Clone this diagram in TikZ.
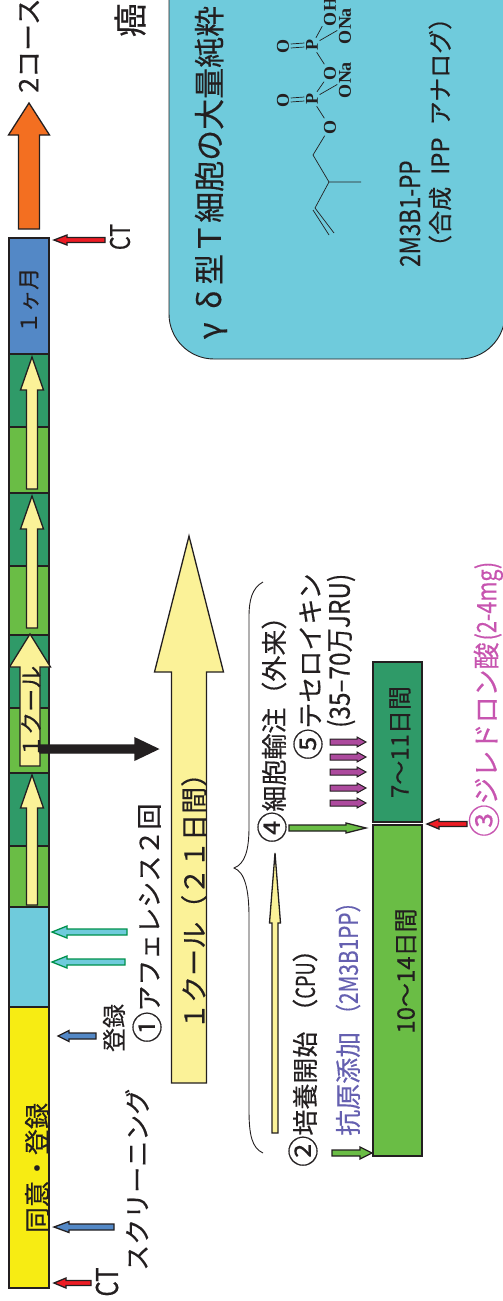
\documentclass[tikz,border=0pt]{standalone}
\usepackage{fontspec}
\usepackage{xcolor}
\usetikzlibrary{positioning,calc}
\newfontfamily\cjk[FakeBold=0.35]{Noto Sans CJK JP}
\newfontfamily\cjknarrow[FakeStretch=0.8,FakeBold=0.35]{Noto Sans CJK JP}
\newfontfamily\cjkmid[FakeStretch=0.87,FakeBold=0.35]{Noto Sans CJK JP}
\newfontfamily\cjkthin[FakeStretch=0.7,FakeBold=0.35]{Noto Sans CJK JP}
\newfontfamily\chemfont{Liberation Serif}
\newcommand{\circnum}[1]{\scalebox{1.2}{#1}}
\definecolor{Ink}{HTML}{231F20}
\definecolor{Sun}{HTML}{F7EC13}
\definecolor{Sky}{HTML}{6FCBDC}
\definecolor{Month}{HTML}{5388C6}
\definecolor{DarkGreen}{HTML}{2F9A68}
\definecolor{LightGreen}{HTML}{6ABD45}
\definecolor{Cream}{HTML}{FBF298}
\definecolor{Orange}{HTML}{F36F21}
\definecolor{Red}{HTML}{ED1C24}
\definecolor{Teal}{HTML}{00914C}
\definecolor{Violet}{HTML}{AD4A9E}
\definecolor{Indigo}{HTML}{6560B0}
\definecolor{Pink}{HTML}{C755B0}
\tikzset{
  seg/.style={%
      rectangle, draw=Ink, line width=1.3pt, inner sep=0pt, outer sep=0pt, anchor=north west,
      minimum width=#1
  },
  seg/.default=40pt,
  txt/.style={%
      font=\cjk\fontsize{#1}{#1}\selectfont, text=Ink, rotate=90, inner sep=0pt, anchor=west
  },
  txt/.default=26,
  nrw/.style={%
      font=\cjknarrow\fontsize{#1}{#1}\selectfont, text=Ink, rotate=90, inner sep=0pt, anchor=west
  },
  chem/.style={%
      font=\chemfont\bfseries\fontsize{#1}{#1}\selectfont, text=Ink, rotate=90, inner sep=1.5pt
  },
  chem/.default=18,
  bond/.style={draw=Ink, line width=0.7pt},
  blk/.style={draw=Ink, line width=1.3pt, line join=miter}
}
% tip, angle, length, head length, head half width, shaft half width
\newcommand{\blockarrow}[7][]{%
  \draw[blk,#1,shift={(#2)},rotate=#3] (0,0) -- (-#5,#6) -- (-#5,#7) -- (-#4,#7)
      -- (-#4,-#7) -- (-#5,-#7) -- (-#5,-#6) -- cycle;}
\begin{document}
\begin{tikzpicture}[x=1pt,y=-1pt]
    \useasboundingbox (0,0) rectangle (503,1301);

    % course bar
    \node[seg, fill=Month, minimum height=117pt]      (month)  at (9,238)  {};
    \node[seg, fill=DarkGreen, minimum height=73pt]   (dark1)  at (9,354)  {};
    \node[seg, fill=LightGreen, minimum height=66pt]  (light1) at (9,427)  {};
    \node[seg, fill=DarkGreen, minimum height=73pt]   (dark2)  at (9,493)  {};
    \node[seg, fill=LightGreen, minimum height=69pt]  (light2) at (9,566)  {};
    \node[seg, fill=DarkGreen, minimum height=73pt]   (dark3)  at (9,635)  {};
    \node[seg, fill=LightGreen, minimum height=65pt]  (light3) at (9,708)  {};
    \node[seg, fill=DarkGreen, minimum height=73pt]   (dark4)  at (9,773)  {};
    \node[seg, fill=LightGreen, minimum height=61pt]  (light4) at (9,846)  {};
    \node[seg, fill=Sky, minimum height=100pt]        (apher)  at (9,907)  {};
    \node[seg, fill=Sun, minimum height=281pt]        (entry)  at (9,1007) {};

    \blockarrow[fill=Cream]{32,357}{90}{132}{33}{11.5}{5.5}
    \blockarrow[fill=Cream]{32,496}{90}{132}{33}{11.5}{5.5}
    \blockarrow[fill=Cream]{32,775}{90}{130}{33}{11.5}{5.5}
    \blockarrow[fill=Cream]{30,634}{90}{132}{33}{20.5}{10}
    \blockarrow[fill=Ink]{158,749}{0}{118}{23}{11}{4}
    \blockarrow[fill=Cream]{189,536}{90}{547}{136}{34.5}{17.5}
    \blockarrow[fill=Orange]{29,103}{90}{126}{32}{20.5}{10.5}

    \node[txt=22] (monthtxt) at (29,334) {１ヶ月};
    \node[txt=23] (cycletxt) at (31,758) {１クール};
    \node[txt=26, anchor=center] (entrytxt) at (37,1168) {同意・登録};
    \node[txt=27] (cyclebig) at (194,1030) {１クール（２１日間）};
    \node[txt=27] (nextcourse) at (29,93) {2コース};
    \node[txt=34, anchor=center] (gan) at (130,20) {癌};

    % left side arrows
    \blockarrow[fill=Red]{54,240}{180}{51}{13}{5}{2.5}
    \blockarrow[fill=Sky, draw=Teal]{52,932}{180}{75}{15}{6}{3}
    \blockarrow[fill=Sky, draw=Teal]{52,962}{180}{73}{15}{6}{3}
    \blockarrow[fill=Month]{58,1036}{180}{38}{11}{5.5}{3}
    \blockarrow[fill=Month]{54,1227}{180}{60}{15}{5.5}{3}
    \blockarrow[fill=Red]{54,1283}{180}{37}{12}{5}{2.5}

    \node[nrw=27, anchor=center] (cttop) at (120,237) {CT};
    \node[nrw=30, anchor=center] (ctbot) at (107,1282) {CT};
    \node[txt=24, anchor=center] (toroku) at (114,1028) {登録};
    \node[txt=26] (apheresis) at (147,1043) {\circnum{①}アフェレシス２回};
    \node[txt=26] (screening) at (137,1271) {スクリーニング};

    % purification panel
    \draw[fill=Sky, draw=Ink, line width=0.9pt, rounded corners=45pt] (169,-80) rectangle (505,359);
    \node[txt=31] (panelhead) at (211,347) {\makebox[32pt]{γ}\makebox[30pt]{δ}型Ｔ細胞の大量純粋};
    \node[nrw=28] (compound) at (410,267) {2M3B1-PP};
    \node[txt=24] (analog) at (440,259) {（合成\hspace{12pt}IPP\hspace{12pt}アナログ）};

    \coordinate (vinyla) at (334,233);
    \coordinate (vinylb) at (329,235);
    \coordinate (cha) at (315,208);
    \coordinate (chb) at (313,210);
    \coordinate (cq) at (329,182);
    \coordinate (methyl) at (361,182);
    \coordinate (chtwo) at (313,155);
    \node[chem] (oa) at (330,127) {O};
    \node[chem] (pa) at (312,99) {P};
    \node[chem] (dbla) at (283,100) {O};
    \node[chem] (ob) at (330,73) {O};
    \node[chem] (pb) at (312,45) {P};
    \node[chem] (dblb) at (283,46) {O};
    \node[chem] (onaa) at (345,80) {ONa};
    \node[chem] (onab) at (345,26) {ONa};
    \node[chem] (oh) at (330,12) {OH};
    \path[bond] (vinyla) -- (cha)
          (vinylb) -- (chb)
          (cha) -- (cq)
          (cq) -- (methyl)
          (cq) -- (chtwo)
          (chtwo) -- (oa)
          (oa) -- (pa)
          (pa) -- (onaa)
          (pa) -- (ob)
          (ob) -- (pb)
          (pb) -- (onab)
          (pb) -- (oh)
          ([yshift=2pt]dbla.south) -- ([yshift=2pt]pa.north)
          ([yshift=-2pt]dbla.south) -- ([yshift=-2pt]pa.north)
          ([yshift=2pt]dblb.south) -- ([yshift=2pt]pb.north)
          ([yshift=-2pt]dblb.south) -- ([yshift=-2pt]pb.north)
    ;

    % one cycle detail
    \node[seg=49pt, fill=DarkGreen, minimum height=160pt]  (late)  at (373,662) {};
    \node[seg=49pt, fill=LightGreen, minimum height=331pt] (early) at (373,825) {};
    \node[txt=24, anchor=center] (latetxt)  at (400,742) {7〜11日間};
    \node[txt=24, anchor=center] (earlytxt) at (406,971) {10〜14日間};

    \coordinate (bracetop) at (263,582);
    \coordinate (bracetip) at (234,868);
    \coordinate (bracebot) at (263,1153);
    \draw[Ink, line width=0.9pt] (bracetop) .. controls (252,588) and (249,600) .. (249,617)
        -- (249,827) .. controls (249,850) and (245,864) .. (bracetip)
        .. controls (245,872) and (249,890) .. (249,917)
        -- (249,1110) .. controls (249,1135) and (252,1148) .. (bracebot);

    \blockarrow[fill=Cream]{275,853}{90}{280}{70}{5.5}{3}
    \blockarrow[fill=LightGreen]{372,1153}{0}{40}{12}{6}{3}
    \blockarrow[fill=LightGreen]{366,828}{0}{77}{20}{5}{3}
    \blockarrow[fill=Violet, line width=1pt]{366,742}{0}{36}{9}{5}{3}
    \blockarrow[fill=Violet, line width=1pt]{366,757}{0}{36}{9}{5}{3}
    \blockarrow[fill=Violet, line width=1pt]{366,772}{0}{36}{9}{5}{3}
    \blockarrow[fill=Violet, line width=1pt]{366,788}{0}{36}{9}{5}{3}
    \blockarrow[fill=Violet, line width=1pt]{366,803}{0}{36}{9}{5}{3}
    \blockarrow[fill=Red]{427,824}{180}{40}{12}{5}{2.5}

    \node[txt=26] (culture) at (303,1167) {\circnum{②}培養開始\hspace{7pt}（{\cjkthin CPU}）};
    \node[txt=26, text=Indigo] (antigen) at (348,1136) {抗原添加\hspace{7pt}{\cjknarrow （2M3B1PP）}};
    \node[txt=26] (infusion) at (272,843) {\circnum{④}細胞輸注（外来）};
    \node[txt=26] (teceleukin) at (308,760) {\circnum{⑤}テセロイキン};
    \node[font=\cjkmid\fontsize{28}{28}\selectfont, text=Ink, rotate=90, inner sep=0pt, anchor=west] (dose) at (341,728) {(35–70万JRU)};
    \node[txt=27, text=Pink] (zoledronate) at (486,837) {\circnum{③}ジレドロン酸\hspace{2pt}{\cjknarrow (2-4mg)}};

\end{tikzpicture}
\end{document}
